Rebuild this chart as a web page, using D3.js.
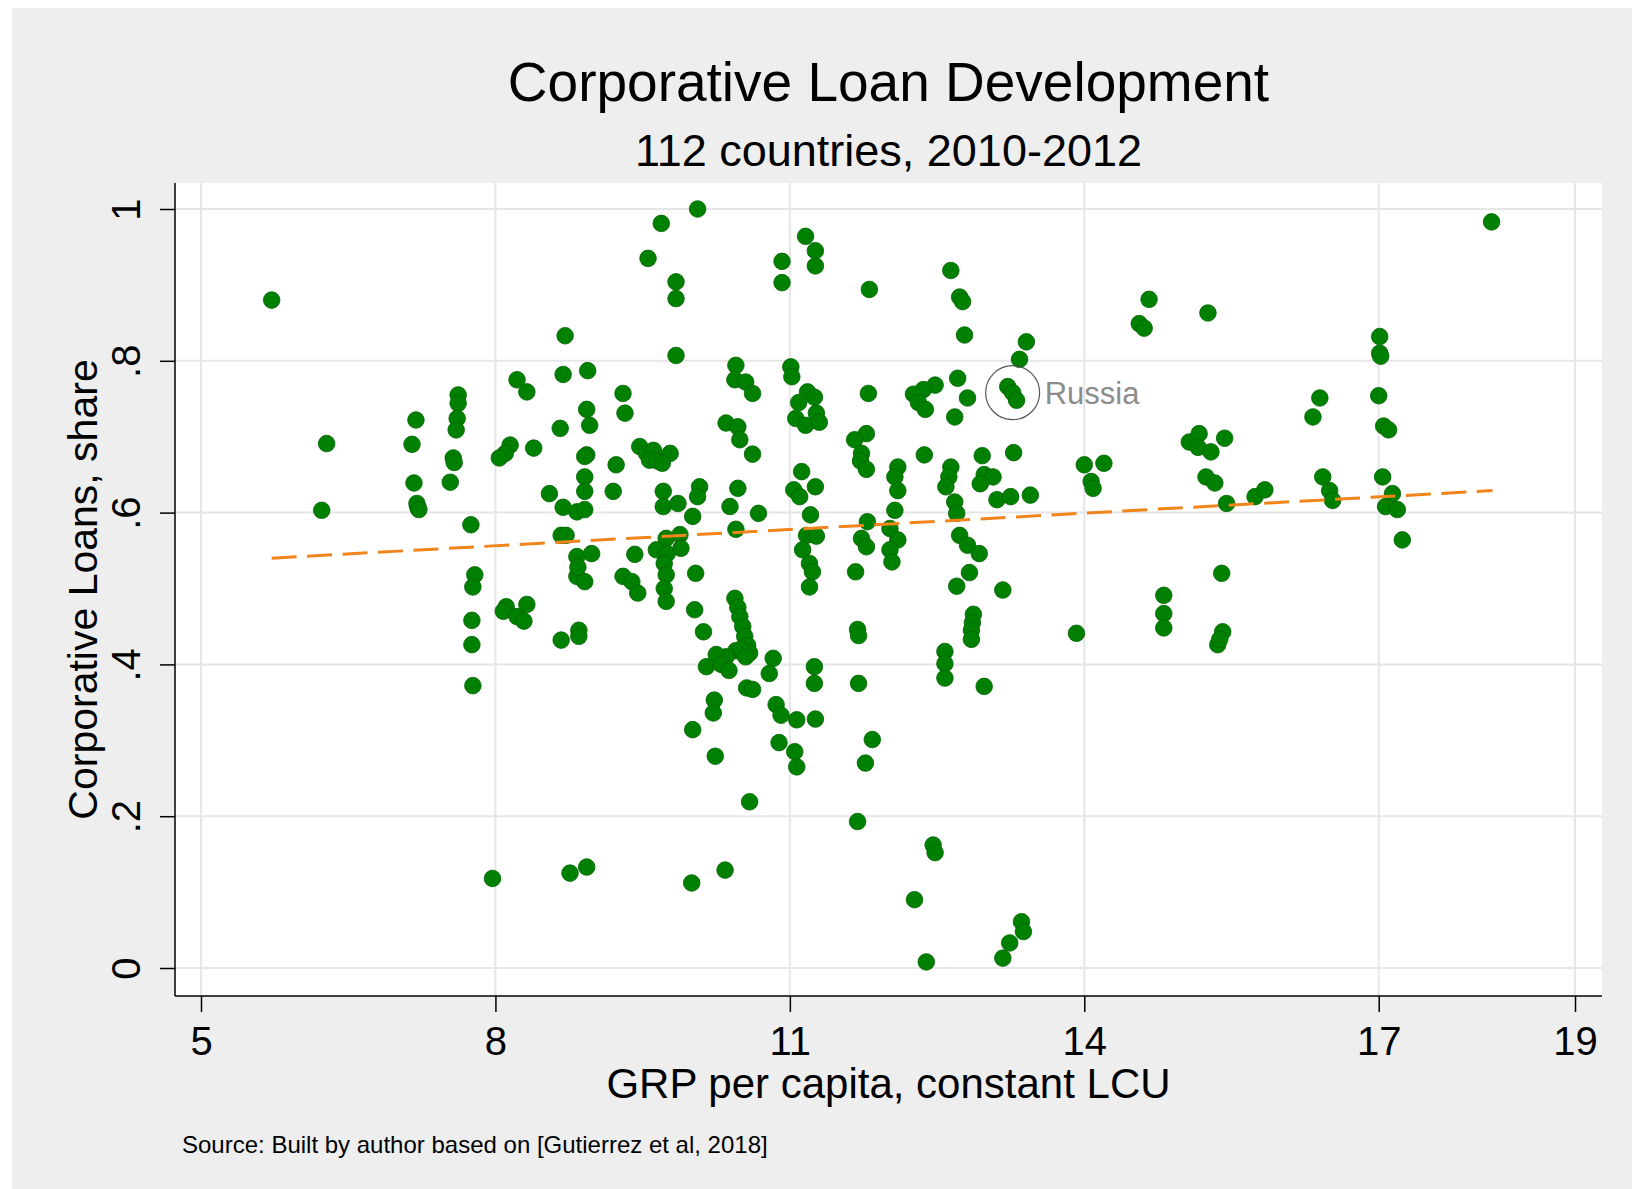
<!DOCTYPE html>
<html>
<head>
<meta charset="utf-8">
<style>
  body { margin: 0; background: #fff; }
  svg { display: block; font-family: Arial, "Liberation Sans", Helvetica, sans-serif; }
  .grid line { stroke: #e6e6e6; stroke-width: 2; }
  .axis path { display: none; }
  .axis line, .axisline { stroke: #000; stroke-width: 1.5; }
  .axis text { font-size: 40px; fill: #000; }
  .dot { fill: #008000; stroke: #006400; stroke-width: 0.8; }
  .fit { fill: none; stroke: #f2841c; stroke-width: 3; stroke-dasharray: 25,10.5; }
</style>
</head>
<body>
<script src="https://d3js.org/d3.v7.min.js"></script>
<script>

  // tick values and labels
  var xTicks = [5, 8, 11, 14, 17, 19];
  var yTicks = [0, 0.2, 0.4, 0.6, 0.8, 1];
  var yTickLabels = ["0", ".2", ".4", ".6", ".8", "1"];

  // GRP per capita vs corporative loan share
  var points = [
    [5.72,0.880],[6.28,0.691],[6.23,0.603],
    [7.19,0.722],[7.15,0.690],[7.17,0.639],[7.21,0.607],[7.20,0.612],[7.22,0.604],
    [7.62,0.755],[7.62,0.744],[7.61,0.724],[7.60,0.709],[7.57,0.672],[7.58,0.666],[7.54,0.640],
    [7.75,0.584],[7.79,0.518],[7.77,0.502],[7.76,0.458],[7.76,0.426],[7.77,0.372],[7.97,0.118],
    [8.22,0.775],[8.32,0.759],[8.15,0.689],[8.10,0.678],[8.04,0.672],[8.39,0.685],
    [8.11,0.476],[8.08,0.470],[8.22,0.463],[8.29,0.457],[8.32,0.479],
    [8.71,0.833],[8.69,0.782],[8.94,0.787],[8.93,0.736],[8.96,0.715],[8.66,0.711],[8.93,0.676],
    [8.91,0.674],[8.91,0.647],[8.91,0.628],[8.55,0.625],[8.69,0.607],[8.83,0.601],[8.91,0.604],
    [8.67,0.570],[8.72,0.570],[8.83,0.542],[8.98,0.546],[8.83,0.516],[8.91,0.509],[8.84,0.528],
    [8.67,0.432],[8.85,0.445],[8.85,0.437],[8.76,0.125],[8.93,0.133],
    [9.30,0.757],[9.32,0.731],[9.23,0.663],[9.20,0.628],[9.42,0.545],[9.30,0.516],[9.39,0.509],[9.45,0.494],
    [9.555,0.935],[9.69,0.981],[9.84,0.904],[9.84,0.882],[9.84,0.807],
    [9.47,0.687],[9.54,0.678],[9.61,0.682],[9.78,0.678],[9.57,0.669],[9.65,0.668],[9.70,0.665],
    [9.71,0.628],[9.71,0.608],[9.86,0.612],[10.08,0.634],[10.06,0.621],[10.01,0.595],
    [9.74,0.566],[9.88,0.571],[9.64,0.551],[9.75,0.546],[9.89,0.553],[9.72,0.533],[9.74,0.518],
    [9.72,0.500],[9.74,0.483],[10.04,0.520],[10.03,0.472],[10.12,0.443],
    [10.01,0.314],[10.00,0.112],
    [10.06,1.000],[10.45,0.794],[10.44,0.775],[10.55,0.772],[10.62,0.757],
    [10.35,0.718],[10.47,0.713],[10.49,0.696],[10.62,0.677],
    [10.47,0.632],[10.39,0.608],[10.45,0.578],[10.68,0.599],
    [10.44,0.487],[10.47,0.475],[10.49,0.463],[10.52,0.450],[10.54,0.437],[10.57,0.425],[10.59,0.415],
    [10.45,0.418],[10.35,0.410],[10.25,0.413],[10.15,0.397],[10.30,0.400],[10.38,0.392],[10.50,0.420],
    [10.55,0.410],[10.83,0.408],[10.79,0.388],[10.56,0.369],[10.62,0.367],[10.86,0.347],[10.91,0.333],
    [10.23,0.353],[10.22,0.336],[10.24,0.279],[10.59,0.219],[10.34,0.129],
    [10.92,0.931],[10.92,0.903],[11.16,0.964],[11.26,0.945],[11.26,0.925],
    [11.01,0.792],[11.02,0.779],[11.18,0.759],[11.25,0.752],[11.09,0.745],[11.27,0.731],
    [11.06,0.724],[11.16,0.715],[11.30,0.719],
    [11.12,0.654],[11.04,0.630],[11.10,0.621],[11.26,0.634],[11.21,0.597],
    [11.17,0.570],[11.27,0.569],[11.13,0.551],[11.20,0.533],[11.23,0.522],[11.20,0.502],
    [11.25,0.397],[11.25,0.375],[11.07,0.327],[11.26,0.328],
    [10.89,0.297],[11.05,0.285],[11.07,0.265],
    [11.81,0.894],[11.80,0.757],[11.78,0.704],[11.66,0.696],[11.73,0.678],[11.72,0.668],[11.78,0.657],
    [11.79,0.588],[11.73,0.566],[11.78,0.555],[11.67,0.522],
    [11.69,0.446],[11.70,0.438],[11.70,0.375],[11.84,0.301],[11.77,0.270],[11.69,0.193],
    [12.10,0.660],[12.07,0.647],[12.10,0.629],[12.07,0.603],[12.02,0.579],[12.10,0.564],[12.02,0.551],[12.04,0.535],
    [12.48,0.768],[12.36,0.762],[12.26,0.756],[12.31,0.745],[12.38,0.736],[12.37,0.676],
    [12.46,0.162],[12.48,0.152],[12.27,0.090],[12.39,0.008],
    [12.64,0.919],[12.73,0.884],[12.76,0.878],[12.78,0.834],
    [12.71,0.777],[12.81,0.751],[12.68,0.726],
    [12.64,0.660],[12.62,0.647],[12.59,0.634],[12.68,0.614],[12.70,0.599],
    [12.73,0.570],[12.81,0.557],[12.93,0.546],[12.83,0.521],[12.70,0.503],
    [12.87,0.466],[12.86,0.455],[12.85,0.445],[12.85,0.433],
    [12.58,0.417],[12.58,0.401],[12.58,0.382],[12.98,0.371],
    [12.96,0.675],[12.98,0.650],[13.07,0.647],[12.94,0.638],
    [13.11,0.617],[13.25,0.621],[13.45,0.623],[13.28,0.679],[13.17,0.498],
    [13.22,0.766],[13.27,0.758],[13.31,0.748],[13.41,0.825],[13.34,0.802],
    [13.36,0.061],[13.38,0.048],[13.24,0.033],[13.17,0.013],
    [13.92,0.441],[14.00,0.663],[14.20,0.665],[14.07,0.641],[14.09,0.632],
    [14.66,0.881],[14.56,0.849],[14.61,0.843],
    [14.81,0.491],[14.81,0.467],[14.81,0.448],
    [15.26,0.863],[15.07,0.693],[15.17,0.704],[15.16,0.686],[15.29,0.680],[15.43,0.698],
    [15.24,0.647],[15.33,0.639],[15.45,0.612],[15.40,0.520],
    [15.41,0.443],[15.36,0.426],[15.38,0.433],
    [15.74,0.621],[15.84,0.630],
    [16.40,0.751],[16.33,0.726],[16.43,0.647],[16.50,0.629],[16.53,0.616],
    [17.01,0.832],[17.01,0.810],[17.02,0.806],[17.00,0.754],[17.05,0.714],[17.10,0.709],
    [17.04,0.647],[17.14,0.625],[17.07,0.608],[17.19,0.604],[17.24,0.564],
    [18.15,0.983]
  ];

  // fitted line end points
  var fitLine = [[5.72, 0.540], [18.16, 0.629]];

  // highlighted country
  var highlight = { name: "Russia", x: 13.27, y: 0.758 };

  var width = 1632, height = 1189;
  var plot = { left: 175, right: 1602, top: 183, bottom: 996 };

  var x = d3.scaleLinear().domain([5, 19]).range([201, 1575]);
  var y = d3.scaleLinear().domain([0, 1]).range([968, 209]);

  var svg = d3.select("body").append("svg")
      .attr("width", width)
      .attr("height", height);

  // background
  svg.append("rect")
      .attr("x", 12).attr("y", 8)
      .attr("width", width - 12).attr("height", height - 8)
      .attr("fill", "#eeeeee");

  svg.append("rect")
      .attr("x", plot.left).attr("y", plot.top)
      .attr("width", plot.right - plot.left)
      .attr("height", plot.bottom - plot.top)
      .attr("fill", "#fff");

  // grid
  var grid = svg.append("g").attr("class", "grid");
  grid.selectAll(".gx").data(xTicks).enter().append("line")
      .attr("x1", function(d) { return x(d); })
      .attr("x2", function(d) { return x(d); })
      .attr("y1", plot.top).attr("y2", plot.bottom);
  grid.selectAll(".gy").data(yTicks).enter().append("line")
      .attr("y1", function(d) { return y(d); })
      .attr("y2", function(d) { return y(d); })
      .attr("x1", plot.left).attr("x2", plot.right);

  // axes
  var xAxis = d3.axisBottom(x).tickValues(xTicks).tickSize(16).tickPadding(15);
  svg.append("g")
      .attr("class", "x axis")
      .attr("transform", "translate(0," + plot.bottom + ")")
      .call(xAxis);

  var yAxis = d3.axisLeft(y).tickValues(yTicks).tickSize(15)
      .tickFormat(function(d, i) { return yTickLabels[i]; });
  svg.append("g")
      .attr("class", "y axis")
      .attr("transform", "translate(" + plot.left + ",0)")
      .call(yAxis)
      .selectAll("text")
      .attr("x", null)
      .attr("dy", null)
      .attr("text-anchor", "middle")
      .attr("transform", "translate(-35,0) rotate(-90)");

  svg.append("line").attr("class", "axisline")
      .attr("x1", plot.left).attr("x2", plot.left)
      .attr("y1", plot.top).attr("y2", plot.bottom);
  svg.append("line").attr("class", "axisline")
      .attr("x1", plot.left).attr("x2", plot.right)
      .attr("y1", plot.bottom).attr("y2", plot.bottom);

  // points
  svg.append("g").selectAll("circle")
      .data(points)
      .enter().append("circle")
      .attr("class", "dot")
      .attr("cx", function(d) { return x(d[0]); })
      .attr("cy", function(d) { return y(d[1]); })
      .attr("r", 8.3);

  // fitted values
  var line = d3.line()
      .x(function(d) { return x(d[0]); })
      .y(function(d) { return y(d[1]); });
  svg.append("path")
      .datum(fitLine)
      .attr("class", "fit")
      .attr("d", line);

  // Russia marker
  svg.append("circle")
      .attr("cx", x(highlight.x))
      .attr("cy", y(highlight.y))
      .attr("r", 27)
      .attr("fill", "none")
      .attr("stroke", "#555")
      .attr("stroke-width", 1.2);
  svg.append("text")
      .attr("x", x(highlight.x) + 32)
      .attr("y", y(highlight.y) + 11)
      .attr("font-size", 31)
      .attr("fill", "#8c8c8c")
      .text(highlight.name);

  // titles
  var cx = (plot.left + plot.right) / 2;
  svg.append("text")
      .attr("x", cx).attr("y", 101)
      .attr("text-anchor", "middle")
      .attr("font-size", 55)
      .text("Corporative Loan Development");
  svg.append("text")
      .attr("x", cx).attr("y", 166)
      .attr("text-anchor", "middle")
      .attr("font-size", 45)
      .text("112 countries, 2010-2012");

  svg.append("text")
      .attr("x", cx).attr("y", 1098)
      .attr("text-anchor", "middle")
      .attr("font-size", 42)
      .text("GRP per capita, constant LCU");

  svg.append("text")
      .attr("transform", "translate(97," + ((plot.top + plot.bottom) / 2) + ") rotate(-90)")
      .attr("text-anchor", "middle")
      .attr("font-size", 41)
      .text("Corporative Loans, share");

  svg.append("text")
      .attr("x", 182).attr("y", 1153)
      .attr("font-size", 24)
      .text("Source: Built by author based on [Gutierrez et al, 2018]");

</script>
</body>
</html>
